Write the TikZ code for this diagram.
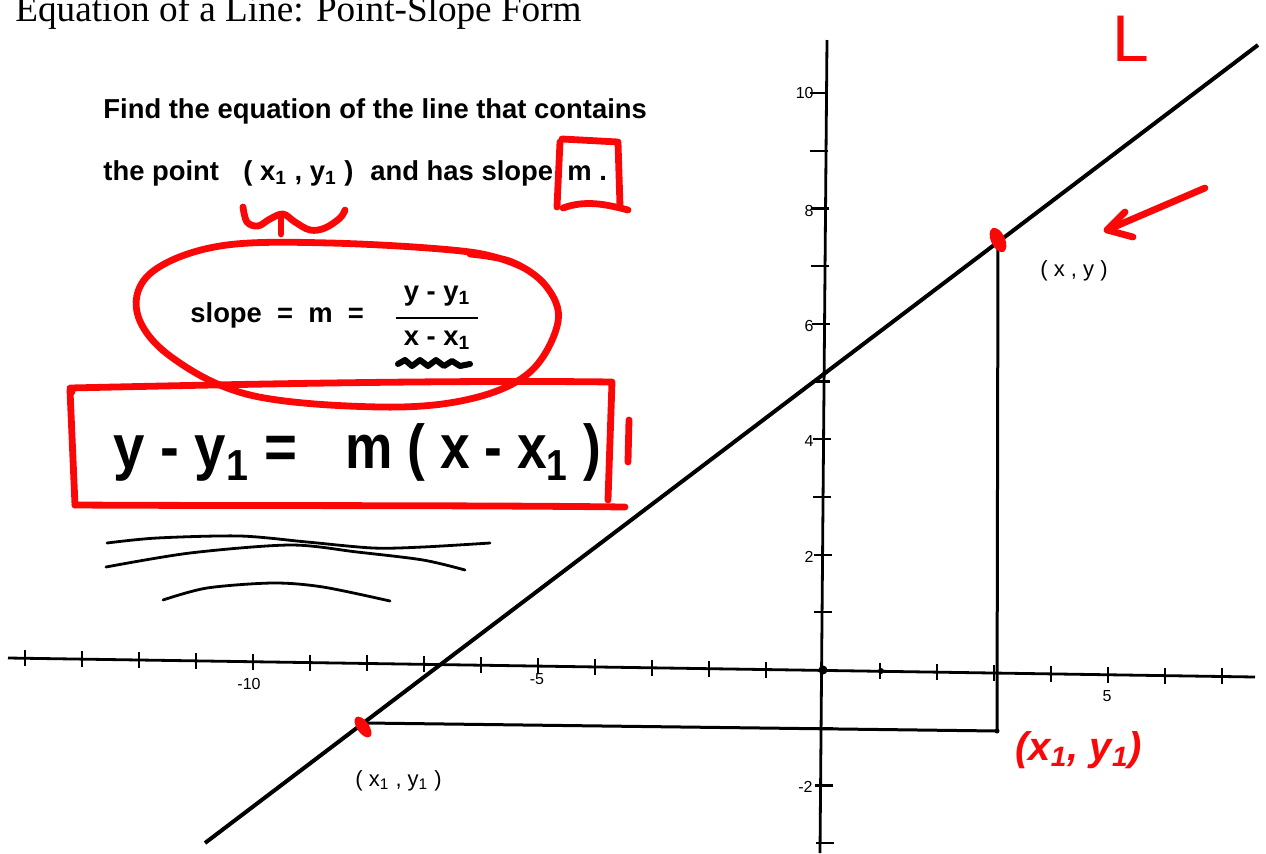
\documentclass[tikz,border=0pt]{standalone}
\usepackage{graphicx}
\usepackage{fontspec}
\setmainfont{Liberation Serif}
\setsansfont{Liberation Sans}
\definecolor{penred}{RGB}{250,8,8}
\begin{document}
\begin{tikzpicture}[x=0.5pt,y=-0.5pt,
  axis/.style={line width=1.4pt,black},
  tickmark/.style={line width=1.1pt,black},
  ink/.style={line width=1.5pt,black},
  scrawl/.style={line width=1.4pt,black,line cap=round},
  redpen/.style={draw=penred,line width=3.4pt,line cap=round,line join=round},
  printed/.style={font=\sffamily\bfseries\fontsize{13.7}{16}\selectfont,inner sep=0pt,anchor=base west},
  bigeq/.style={font=\sffamily\bfseries\fontsize{31}{36}\selectfont,inner sep=0pt,anchor=base west},
  ptlabel/.style={font=\sffamily\fontsize{11}{13}\selectfont,inner sep=0pt,anchor=base west},
  axlabel/.style={font=\sffamily\fontsize{8}{9}\selectfont,inner sep=0pt},
  handred/.style={text=penred,inner sep=0pt}
]
\useasboundingbox (0,0) rectangle (1266,853);
\clip (0,0) rectangle (1266,853);
\fill[white] (0,0) rectangle (1266,853);

% title (cut at the top edge, as in the scan)
\node[font=\rmfamily\fontsize{18.6}{22}\selectfont,inner sep=0pt,anchor=base west] (title) at (15,21) {Equation of a Line: Point-Slope Form};

% problem text
\node[printed] (find) at (103,118) {Find the equation of the line that contains};
\node[printed] (thepoint) at (103,180) {the point};
\node[printed] (pt) at (243,180) {( x\textsubscript{1} , y\textsubscript{1} )};
\node[printed] (hasslope) at (370,180) {and has slope};
\node[printed] (mdot) at (567,180) {m .};

% slope formula
\node[printed] (slope) at (190,322) {slope \ = \ m \ =};
\node[printed,anchor=base] (num) at (437,300) {y - y\textsubscript{1}};
\node[printed,anchor=base] (den) at (437,345) {x - x\textsubscript{1}};
\coordinate (barL) at (396,318);
\coordinate (barR) at (478,318);
\draw[line width=1.1pt] (barL) -- (barR);
\draw[line width=3pt,line cap=round,line join=round] plot coordinates {(398,364) (405,360) (412,366) (420,360) (428,366) (436,360) (444,366) (452,361) (460,366) (470,364)};

% big equation
\node[bigeq] (lhs) at (113,468) {\scalebox{0.91}[1]{y - y\textsubscript{1} =}};
\node[bigeq] (rhs) at (345,468) {\scalebox{0.86}[1]{m ( x - x\textsubscript{1} )}};

% scribbled lines
\draw[scrawl] plot[smooth] coordinates {(107,543) (157,538) (240,536) (307,542) (373,548) (423,547) (490,543)};
\draw[scrawl] plot[smooth] coordinates {(106,567) (190,553) (290,545) (357,552) (423,560) (465,570)};
\draw[scrawl] plot[smooth] coordinates {(163,600) (207,588) (273,583) (323,587) (390,601)};

% axes
\coordinate (xL) at (8,658);
\coordinate (xR) at (1255,677);
\coordinate (yT) at (827,40);
\coordinate (yB) at (820,853);
\draw[axis] (xL) -- (xR);
\draw[axis] (yT) -- (yB);
\foreach \k in {-14,...,-1,1,2,...,7}{
  \draw[tickmark] ({823+57*\k},{670.4+0.869*\k-8}) -- ({823+57*\k},{670.4+0.869*\k+8});
}
\foreach \k in {-3,-2,-1,1,2,...,10}{
  \draw[tickmark] ({823.5-0.0086*57.7*\k-9},{670-57.7*\k}) -- ({823.5-0.0086*57.7*\k+9},{670-57.7*\k});
}
\fill (823,670) circle (4.5);
\fill (881,671) circle (3);

% axis labels
\node[axlabel,anchor=east] (y10) at (814,93) {10};
\node[axlabel,anchor=east] (y8) at (814,211) {8};
\node[axlabel,anchor=east] (y6) at (814,326) {6};
\node[axlabel,anchor=east] (y4) at (814,441) {4};
\node[axlabel,anchor=east] (y2) at (814,557) {2};
\node[axlabel,anchor=east] (ym2) at (813,787) {-2};
\node[axlabel] (xm10) at (249,684) {-10};
\node[axlabel] (xm5) at (537,679) {-5};
\node[axlabel] (x5) at (1107,696) {5};

% the line L
\coordinate (Ls) at (205,843);
\coordinate (Le) at (1258,45);
\draw[line width=2pt] (Ls) -- (Le);

% points and legs
\coordinate (P1) at (366,723);
\coordinate (C) at (997,731);
\coordinate (P) at (998,243);
\draw[ink] (P1) -- (C) -- (P);
\fill (C) circle (2.5);
\node[ptlabel] (lp1) at (355,786) {( x\textsubscript{1} , y\textsubscript{1} )};
\node[ptlabel] (lp) at (1040,276) {( x , y )};

% red annotations
\fill[penred,rotate around={35:(363,727)}] (363,727) ellipse (6 and 12);
\fill[penred,rotate around={25:(998,240)}] (998,240) ellipse (7 and 13);

\draw[redpen] plot[smooth,tension=0.6] coordinates {(524,268) (470,252) (330,243) (220,246) (152,272) (137,312) (170,356) (250,395) (380,407) (470,399) (530,372) (558,322) (546,286) (512,262) (470,254)};
\draw[redpen] (72,392) -- (70,388) .. controls (250,384) and (450,380) .. (612,382) -- (608,500);
\draw[redpen] (70,390) -- (75,505);
\draw[redpen] (75,505) .. controls (250,506) and (450,505) .. (625,507);
\draw[redpen] (629,420) -- (628,462);

\draw[redpen] (560,142) -- (557,207);
\draw[redpen] (562,139) -- (618,142) -- (620,206);
\draw[redpen] (563,208) .. controls (585,200) and (605,204) .. (628,210);

\draw[redpen] plot[smooth,tension=0.6] coordinates {(243,207) (247,222) (258,226) (270,219) (283,214) (295,222) (310,230) (325,228) (340,218) (345,210)};
\draw[redpen] (281,218) -- (281,234);

\coordinate (arT) at (1205,188);
\coordinate (arH) at (1107,230);
\draw[redpen] (arT) -- (arH);
\draw[redpen] (1125,212) -- (arH) -- (1133,237);

\node[handred,font=\sffamily\fontsize{33}{36}\selectfont,anchor=base west] (Lbl) at (1112,61) {L};
\node[handred,font=\sffamily\bfseries\itshape\fontsize{20}{24}\selectfont,anchor=base west] (corner) at (1015,760) {(x\textsubscript{1}, y\textsubscript{1})};
\end{tikzpicture}
\end{document}
